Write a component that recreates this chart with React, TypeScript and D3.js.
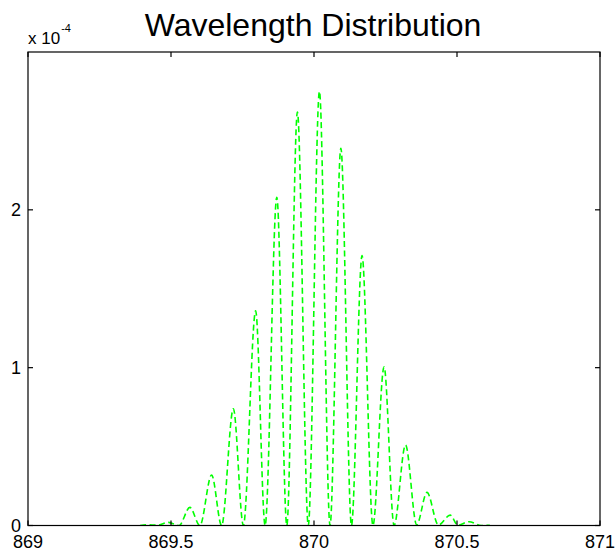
import React from "react";
import * as d3 from "d3";

// Wavelength (nm) of each fringe peak and its height
const peakWavelengths = [
  869.415, 869.491, 869.566, 869.642, 869.718, 869.796, 869.87, 869.942,
  870.019, 870.094, 870.168, 870.245, 870.32, 870.395, 870.476, 870.542,
];
const peakHeights = [
  0.005e-4, 0.02e-4, 0.115e-4, 0.32e-4, 0.74e-4, 1.36e-4, 2.08e-4, 2.62e-4,
  2.75e-4, 2.39e-4, 1.71e-4, 1.005e-4, 0.51e-4, 0.21e-4, 0.066e-4, 0.024e-4,
];
// Wavelengths of the minima between fringes (first = start, last = end of trace)
const valleyWavelengths = [
  869.392, 869.453, 869.528, 869.601, 869.677, 869.753, 869.829, 869.905,
  869.98, 870.056, 870.131, 870.206, 870.28, 870.359, 870.435, 870.503,
  870.584,
];
const valleyHeights = [
  0, 0.002e-4, 0, 0, 0, 0, 0, 0, 0, 0, 0, 0, 0, 0.004e-4, 0.003e-4, 0.002e-4,
  0,
];
const traceEnd = { x: 870.615, y: 0.002e-4 };

const xTicks = [869, 869.5, 870, 870.5, 871];
const xTickLabels = ["869", "869.5", "870", "870.5", "871"];
const yTicks = [0, 1e-4, 2e-4];
const yTickLabels = ["0", "1", "2"];

const W = 615;
const H = 558;
const left = 28;
const right = 600;
const top = 52;
const bottom = 525.5;

export default function App() {
  const x = d3.scaleLinear().domain([869, 871]).range([left, right]);
  const y = d3.scaleLinear().domain([0, 3e-4]).range([bottom, top]);

  const pts: [number, number][] = [];
  valleyWavelengths.forEach((vx, i) => {
    pts.push([vx, valleyHeights[i]]);
    if (i < peakWavelengths.length) pts.push([peakWavelengths[i], peakHeights[i]]);
  });
  pts.push([traceEnd.x, traceEnd.y]);

  const line = d3
    .line<[number, number]>()
    .x((d) => x(d[0]))
    .y((d) => y(d[1]))
    .curve(d3.curveMonotoneX);

  const font = "'Liberation Sans', Arial, Helvetica, sans-serif";
  const tickLen = 5;

  return (
    <svg
      width={W}
      height={H}
      style={{ position: "absolute", left: 0, top: 0, background: "#fff" }}
      fontFamily={font}
    >
      <rect x={0} y={0} width={W} height={H} fill="#fff" />
      <defs>
        <clipPath id="plotclip">
          <rect x={left} y={top} width={right - left} height={bottom - top} />
        </clipPath>
      </defs>
      <text x={313} y={36} fontSize={32} textAnchor="middle" fill="#000">
        Wavelength Distribution
      </text>
      <path
        d={line(pts) || ""}
        fill="none"
        stroke="#00ff00"
        strokeWidth={1.6}
        strokeDasharray="6,3.5"
        clipPath="url(#plotclip)"
      />
      {/* axes box */}
      <rect
        x={left}
        y={top}
        width={right - left}
        height={bottom - top}
        fill="none"
        stroke="#000"
        strokeWidth={1.2}
      />
      {xTicks.map((t, i) => (
        <g key={"xt" + i}>
          <line x1={x(t)} x2={x(t)} y1={bottom} y2={bottom - tickLen} stroke="#000" strokeWidth={1.2} />
          <line x1={x(t)} x2={x(t)} y1={top} y2={top + tickLen} stroke="#000" strokeWidth={1.2} />
          <text x={x(t)} y={548} fontSize={18} textAnchor="middle" fill="#000">
            {xTickLabels[i]}
          </text>
        </g>
      ))}
      {yTicks.map((t, i) => (
        <g key={"yt" + i}>
          <line x1={left} x2={left + tickLen} y1={y(t)} y2={y(t)} stroke="#000" strokeWidth={1.2} />
          <line x1={right} x2={right - tickLen} y1={y(t)} y2={y(t)} stroke="#000" strokeWidth={1.2} />
          <text
            x={21}
            y={y(t) + 6.5}
            fontSize={18}
            textAnchor="end"
            fill="#000"
          >
            {yTickLabels[i]}
          </text>
        </g>
      ))}
      <text x={28} y={44} fill="#000">
        <tspan fontSize={17}>x 10</tspan>
        <tspan fontSize={11} dx={1} dy={-12}>
          -4
        </tspan>
      </text>
    </svg>
  );
}
